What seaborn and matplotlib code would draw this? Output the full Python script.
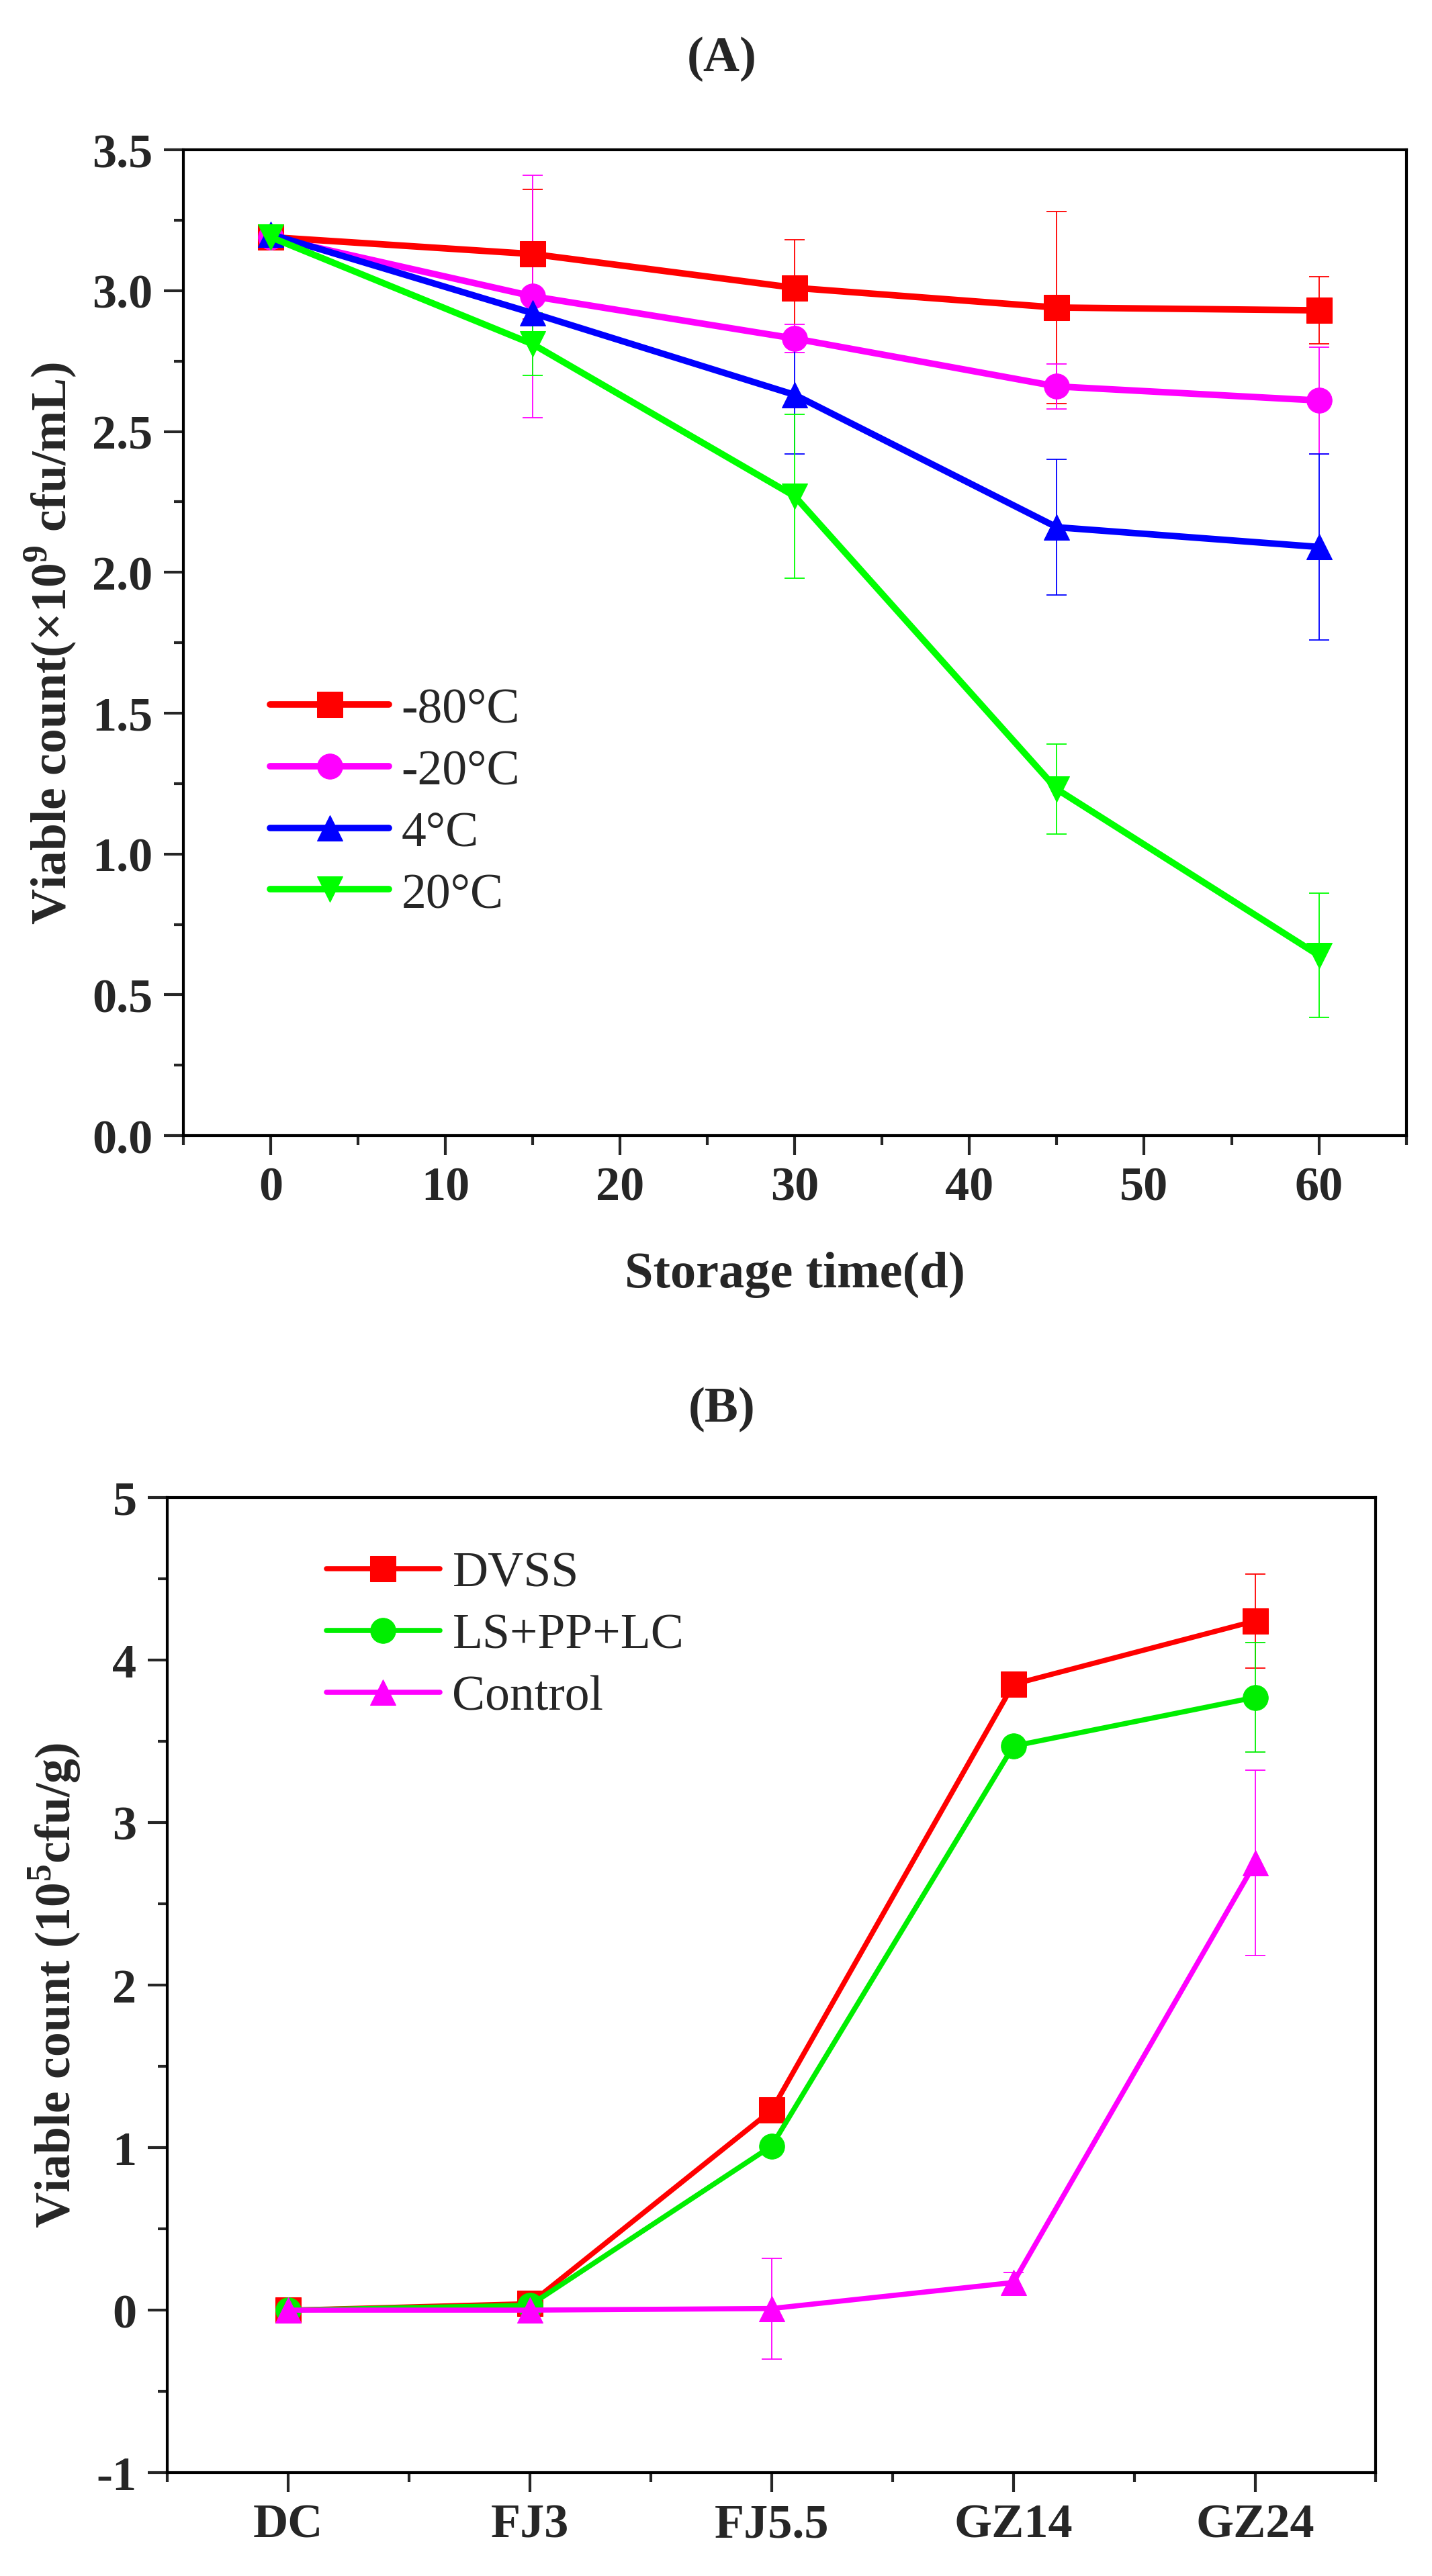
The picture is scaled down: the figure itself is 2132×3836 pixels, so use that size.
import matplotlib
matplotlib.use('Agg')
import matplotlib.pyplot as plt
from matplotlib.ticker import MultipleLocator
import seaborn as sns
import numpy as np

# panel A: storage at different temperatures
days = [0, 15, 30, 45, 60]
temp_labels = ['-80°C', '-20°C', '4°C', '20°C']
m80 = [3.19, 3.13, 3.01, 2.94, 2.93]
m80_err = [0.02, 0.23, 0.17, 0.34, 0.12]
m20 = [3.19, 2.98, 2.83, 2.66, 2.61]
m20_err = [0.02, 0.43, 0.05, 0.08, 0.19]
p4 = [3.20, 2.92, 2.63, 2.16, 2.09]
p4_err = [0.02, 0.07, 0.21, 0.24, 0.33]
p20 = [3.19, 2.81, 2.27, 1.23, 0.64]
p20_err = [0.02, 0.11, 0.29, 0.16, 0.22]

# panel B: fermentation stages
stages = ['DC', 'FJ3', 'FJ5.5', 'GZ14', 'GZ24']
dvss = [0.0, 0.04, 1.23, 3.85, 4.24]
dvss_err = [0.0, 0.0, 0.0, 0.0, 0.29]
lspplc = [0.0, 0.03, 1.01, 3.47, 3.77]
lspplc_err = [0.03, 0.0, 0.0, 0.0, 0.335]
control = [0.0, 0.0, 0.01, 0.17, 2.75]
control_err = [0.0, 0.0, 0.31, 0.06, 0.57]

sns.set_style('ticks')
plt.rcParams['font.family'] = ['Liberation Serif', 'DejaVu Serif']
plt.rcParams['mathtext.fontset'] = 'custom'
plt.rcParams['mathtext.rm'] = 'Liberation Serif'
plt.rcParams['mathtext.bf'] = 'Liberation Serif:bold'
plt.rcParams['axes.unicode_minus'] = False

fig = plt.figure(figsize=(21.32, 38.37), dpi=100)
ax1 = fig.add_axes([0.128, 0.559, 0.854, 0.3826])
ax2 = fig.add_axes([0.117, 0.0401, 0.8438, 0.3785])


def style_axis(ax):
    for s in ax.spines.values():
        s.set_visible(True)
        s.set_linewidth(3)
        s.set_color('black')
    ax.tick_params(which='major', direction='out', length=21, width=3,
                   labelsize=52, pad=12, top=False, right=False)
    ax.tick_params(which='minor', direction='out', length=10, width=3,
                   top=False, right=False)
    for lab in ax.get_xticklabels() + ax.get_yticklabels():
        lab.set_fontweight('bold')


series_a = [
    (m80, m80_err, '#ff0000', 's'),
    (m20, m20_err, '#ff00ff', 'o'),
    (p4, p4_err, '#0000ff', '^'),
    (p20, p20_err, '#00ff00', 'v'),
]
for (vals, err, col, mk), lab in zip(series_a, temp_labels):
    ax1.errorbar(days, vals, yerr=err, fmt='none', ecolor=col, elinewidth=1.3,
                 capsize=11, capthick=1.3, zorder=1)
    sns.lineplot(x=days, y=vals, ax=ax1, color=col, marker=mk, markersize=27,
                 markeredgecolor=col, linewidth=7, label=lab, zorder=3)

ax1.set_xlim(-5, 65)
ax1.set_ylim(0, 3.5)
ax1.xaxis.set_major_locator(MultipleLocator(10))
ax1.xaxis.set_minor_locator(MultipleLocator(5))
ax1.yaxis.set_major_locator(MultipleLocator(0.5))
ax1.yaxis.set_minor_locator(MultipleLocator(0.25))
ax1.yaxis.set_major_formatter(plt.FormatStrFormatter('%.1f'))
ax1.set_xlabel('Storage time(d)', fontsize=55, fontweight='bold', labelpad=44)
ax1.set_ylabel(r'Viable count(×10$^{\mathbf{9}}$ cfu/mL)', fontsize=53,
               fontweight='bold', labelpad=14)
style_axis(ax1)
ax1.legend(loc='upper left', bbox_to_anchor=(0.055, 0.475), frameon=False,
           fontsize=53, handlelength=2.4, handletextpad=0.25, labelspacing=0.33,
           borderaxespad=0)

pos = np.arange(len(stages))
series_b = [
    (dvss, dvss_err, '#ff0000', 's', 'DVSS'),
    (lspplc, lspplc_err, '#00ee00', 'o', 'LS+PP+LC'),
    (control, control_err, '#ff00ff', '^', 'Control'),
]
for vals, err, col, mk, lab in series_b:
    ax2.errorbar(pos, vals, yerr=err, fmt='none', ecolor=col, elinewidth=1.3,
                 capsize=11, capthick=1.3, zorder=1)
    sns.lineplot(x=pos, y=vals, ax=ax2, color=col, marker=mk, markersize=27,
                 markeredgecolor=col, linewidth=5.5, label=lab, zorder=3)

ax2.set_xlim(-0.5, 4.5)
ax2.set_ylim(-1, 5)
ax2.set_xticks(pos)
ax2.set_xticklabels(stages)
ax2.xaxis.set_minor_locator(MultipleLocator(0.5))
ax2.yaxis.set_major_locator(MultipleLocator(1))
ax2.yaxis.set_minor_locator(MultipleLocator(0.5))
ax2.set_xlabel('')
ax2.set_ylabel(r'Viable count (10$^{\mathbf{5}}$cfu/g)', fontsize=53,
               fontweight='bold', labelpad=14)
style_axis(ax2)
ax2.legend(loc='upper left', bbox_to_anchor=(0.115, 0.965), frameon=False,
           fontsize=53, handlelength=2.3, handletextpad=0.25, labelspacing=0.33,
           borderaxespad=0)

fig.text(0.504, 0.977, '(A)', ha='center', va='center', fontsize=54, fontweight='bold')
fig.text(0.504, 0.453, '(B)', ha='center', va='center', fontsize=54, fontweight='bold')

fig.savefig('out.png', dpi=100, facecolor='white')
